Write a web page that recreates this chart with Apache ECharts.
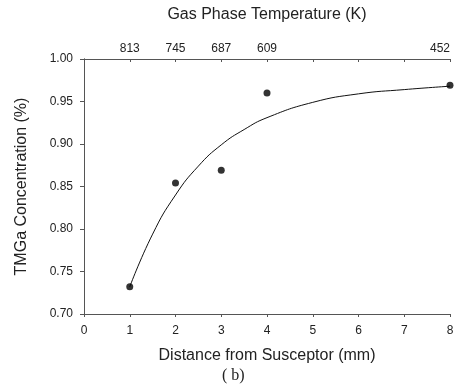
<!DOCTYPE html>
<html><head><meta charset="utf-8">
<script src="https://cdn.jsdelivr.net/npm/echarts@6/dist/echarts.min.js"></script>
<style>html,body{margin:0;padding:0;background:#fff}#c{width:469px;height:387px}</style>
</head><body><div id="c"></div>
<script>
// Measured points
const distance = [1, 2, 3, 4, 8];
const concentration = [0.732, 0.854, 0.869, 0.960, 0.969];
// Fitted curve
const curveX = [1, 1.5, 2, 2.5, 3, 3.5, 4, 5, 6, 7, 8];
const curveY = [0.732, 0.794, 0.840, 0.874, 0.899, 0.917, 0.931, 0.949, 0.959, 0.964, 0.968];
// Top axis (temperature) tick labels
const tempTicks = [1, 2, 3, 4, 8];
const tempLabels = ['813', '745', '687', '609', '452'];

const font = 'Liberation Sans, Arial, sans-serif';
const axisColor = '#555';
const txt = '#222';
const chart = echarts.init(document.getElementById('c'));
chart.setOption({
  animation: false,
  grid: { left: 84, right: 19, top: 59, bottom: 73 },
  xAxis: [{
    type: 'value', min: 0, max: 8, interval: 1, position: 'bottom',
    name: 'Distance from Susceptor (mm)', nameLocation: 'middle', nameGap: 34,
    nameTextStyle: { fontFamily: font, fontSize: 16, color: txt },
    axisLine: { show: true, lineStyle: { color: axisColor, width: 1 } },
    axisTick: { show: true, inside: false, length: 3, lineStyle: { color: axisColor } },
    axisLabel: { fontFamily: font, fontSize: 12, color: txt, margin: 11 },
    splitLine: { show: false }
  }, {
    type: 'value', min: 0, max: 8, interval: 1, position: 'top',
    name: 'Gas Phase Temperature (K)', nameLocation: 'middle', nameGap: 36,
    nameTextStyle: { fontFamily: font, fontSize: 16, color: txt },
    axisLine: { show: true, lineStyle: { color: axisColor, width: 1 } },
    axisTick: { show: true, inside: true, length: 3, lineStyle: { color: axisColor } },
    axisLabel: {
      fontFamily: font, fontSize: 12, color: txt, margin: 4, alignMaxLabel: 'right',
      formatter: v => { const i = tempTicks.indexOf(v); return i >= 0 ? tempLabels[i] : ''; }
    },
    splitLine: { show: false }
  }],
  yAxis: [{
    type: 'value', min: 0.70, max: 1.00, interval: 0.05,
    name: 'TMGa Concentration (%)', nameLocation: 'middle', nameGap: 54,
    nameTextStyle: { fontFamily: font, fontSize: 16, color: txt },
    axisLine: { show: true, lineStyle: { color: axisColor, width: 1 } },
    axisTick: { show: true, inside: false, length: 4, lineStyle: { color: axisColor } },
    axisLabel: { fontFamily: font, fontSize: 12, color: txt, margin: 11, formatter: v => v.toFixed(2) },
    splitLine: { show: false }
  }, {
    type: 'value', min: 0.70, max: 1.00, interval: 0.05, position: 'right',
    axisLine: { show: true, lineStyle: { color: axisColor, width: 1 } },
    axisTick: { show: false }, axisLabel: { show: false }, splitLine: { show: false }
  }],
  graphic: [{
    type: 'text', left: 222, top: 368,
    style: { text: '( b)', font: '16px "Liberation Serif", "DejaVu Serif", serif', fill: txt }
  }],
  series: [{
    type: 'line', smooth: true, showSymbol: false,
    data: curveX.map((x, i) => [x, curveY[i]]),
    lineStyle: { color: '#111', width: 1 }, z: 2
  }, {
    type: 'scatter', symbolSize: 7,
    data: distance.map((x, i) => [x, concentration[i]]),
    itemStyle: { color: '#000' }, z: 3
  }]
});
</script>
</body></html>
